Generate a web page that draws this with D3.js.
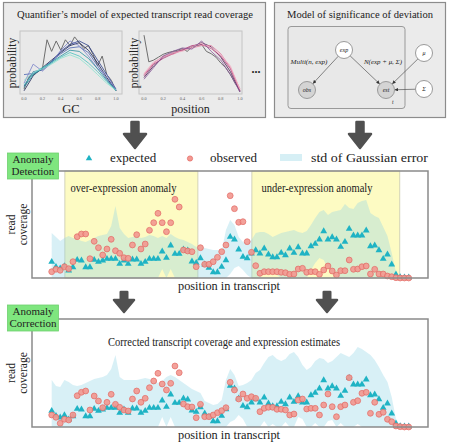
<!DOCTYPE html>
<html><head><meta charset="utf-8">
<script src="https://cdn.jsdelivr.net/npm/d3@7"></script>
<style>body{margin:0;background:#fff}svg{display:block}text{font-family:"Liberation Serif","DejaVu Serif",serif;fill:#222}</style>
</head><body>
<svg id="c" width="450" height="443"></svg>
<script>
// ---------- data ----------
const gcGrid = [0,0.1,0.2,0.3,0.4,0.5,0.6,0.7,0.8,0.9,1.0];
const fineGrid = [0,0.05,0.1,0.15,0.2,0.25,0.3,0.35,0.4,0.45,0.5,0.55,0.6,0.65,0.7,0.75,0.8,0.85,0.9,0.95,1.0];
const gcLines = [
  [0.02,0.28,0.42,0.55,0.68,0.80,0.85,0.72,0.50,0.25,0.02],
  [0.10,0.35,0.38,0.52,0.70,0.82,0.88,0.80,0.55,0.30,0.05],
  [0.30,0.32,0.40,0.53,0.66,0.76,0.78,0.68,0.45,0.22,0.03],
  [0.15,0.48,0.36,0.50,0.72,0.88,0.80,0.62,0.40,0.30,0.04],
  [0.08,0.30,0.40,0.52,0.62,0.72,0.70,0.58,0.40,0.20,0.02],
  [0.12,0.32,0.42,0.50,0.60,0.68,0.62,0.50,0.35,0.18,0.03],
  [0.20,0.34,0.40,0.48,0.58,0.64,0.58,0.45,0.30,0.15,0.03]
];
const gcColors = ["#1b2356","#2c3f8a","#4a66b0","#7a82c8","#2a8f9e","#49c2bf","#8de3cf"];
const gcGray = [0.05,0.25,0.30,0.35,0.40,0.90,0.70,0.88,0.72,0.90,0.80,0.95,0.85,0.75,0.80,0.65,0.45,0.62,0.30,0.20,0.02];
const posLines = [
  [0.25,0.45,0.60,0.68,0.72,0.78,0.85,0.78,0.60,0.35,0.00],
  [0.28,0.48,0.58,0.66,0.73,0.80,0.82,0.75,0.62,0.40,0.02],
  [0.30,0.50,0.62,0.65,0.72,0.76,0.80,0.80,0.66,0.42,0.05],
  [0.32,0.52,0.60,0.68,0.70,0.78,0.84,0.76,0.64,0.45,0.04],
  [0.22,0.42,0.62,0.70,0.76,0.74,0.88,0.70,0.55,0.30,0.00]
];
const posColors = ["#4a1f4e","#b03a7a","#e07aa0","#f2b0c4","#8a5a9a"];
const posGray = [0.98,0.52,0.55,0.60,0.65,0.68,0.70,0.72,0.75,0.70,0.78,0.80,0.82,0.70,0.66,0.60,0.50,0.42,0.30,0.15,0.03];
const tickLabels = ["0.0","0.2","0.4","0.6","0.8","1.0"];

const expected = [15.7,10.7,9,11.3,7,10.3,17.7,17,10.3,10.3,17.7,15.7,17,18.7,18.7,18.7,13.7,17,13.7,18,18,13.7,15.7,18.7,18.7,18.7,26,19.7,32,23.7,23.7,28,27,16,14.7,19.3,13,9.7,5.3,5.3,10.7,17.3,40.7,38,28,20.7,19.3,24,27.3,24,29,23,20.3,20.3,24.7,22.3,29,24.7,30.3,24,24,31.3,33.7,38,46.3,38,40.3,38,30.7,35.7,48.7,42,42,42,47,31.3,32,27.3,18.7,23,13,3,0.3,0,0];
const observed = [6.3,8.7,7.7,11.3,9.3,16.3,41.3,44,44,19.3,36.7,30.3,23,29,38.7,27.3,24.7,20.3,19.7,33,43.3,29,34,47.7,55.3,64.7,55.3,46.3,55.3,78.7,71,28,27,26.3,11.3,30.3,13.7,13.7,16.3,20.7,26.3,33,82.3,69.3,55.7,56.3,36.3,25.7,12.3,4.7,6.3,6.3,6.3,6.3,5.7,5.3,3.7,4,9,9.7,5.7,6.3,6.3,3.7,8,12,7,3,7.3,7.3,18,8.7,9,11.3,12,4,8.7,4,4,2,1.3,0.3,0,0,0];
const corrected = [12,9.7,3.7,7.7,7,12,31.3,34.7,36,17,31,26,19.3,24.7,32.7,22.7,19.7,17,16,28,36,24.7,28.7,39.3,46,53.7,43,37,43.7,61,54.3,23,20.3,20,9.3,22.7,10.3,10.3,12,14.3,16.3,19.3,44.7,37,28,33,28.7,30.3,28.7,15.3,18.7,19.7,19.7,17.7,17.7,17,12,13,27,28,18,18.7,18.7,12,22,33,20.3,10.3,20.3,22,49.3,24.7,26.3,33.7,34.7,13.7,24.7,12.7,14.7,7.7,5.3,1,0.3,0,0];
const stdUpper1 = [45,41,37,40,42,40,39,37,36,38,40,42,43,44,52,72,50,44,40,41,42,40,41,43,42,40,42,40,44,41,39,38,36,34,31,33,30,29,28,28,27,48,58,53,41,36,35,38,45,46,46,44,41,43,45,46,47,48,46,45,47,53,60,66,68,63,66,67,68,74,70,69,75,77,78,65,62,60,51,42,25,6,0,0,0];
const stdLower1 = [0,0,0,0,0,0,0,0,0,0,0,0,0,0,0,0,0,0,0,0,0,0,0,0,0,0,9,0,9,0,0,0,0,0,0,0,0,0,0,0,0,0,4,10,12,8,3,0,0,0,6,8,5,3,0,0,0,0,0,0,0,8,15,20,18,10,4,0,0,0,0,0,0,0,0,0,0,0,0,0,0,0,0,0,0];
const stdUpper2 = [47,41,40,47,45,42,41,42,44,46,48,49,50,52,58,72,50,47,47,47,47,48,49,48,46,44,46,50,52,50,47,44,41,38,36,34,26,24,22,23,27,47,58,52,41,42,44,47,54,57,64,70,72,68,66,68,73,75,70,62,57,60,66,69,68,64,66,70,74,72,70,74,80,78,75,72,67,60,52,45,30,8,0,0,0];
const stdLower2 = [0,0,0,0,0,0,0,0,0,0,0,0,0,0,0,0,0,0,0,0,0,0,0,0,0,0,10,0,10,0,0,0,0,0,0,0,0,0,0,0,0,0,5,7,12,8,0,0,0,0,6,0,3,0,0,5,0,0,10,8,0,0,4,0,0,6,7,0,4,0,0,0,3,0,0,0,0,0,0,0,0,0,0,0,0];
const anomalies = [
  {name:"over-expression anomaly", from:3.1, to:34.4},
  {name:"under-expression anomaly", from:47.1, to:81.9}
];
const legendItems = ["expected","observed","std of Gaussian error"];

// ---------- drawing ----------
const svg = d3.select("#c");
const defs = svg.append("defs");
defs.append("marker").attr("id","ah").attr("viewBox","0 0 10 10").attr("refX",9).attr("refY",5)
  .attr("markerWidth",5).attr("markerHeight",5).attr("orient","auto")
  .append("path").attr("d","M0,0L10,5L0,10z").attr("fill","#333");

// top boxes
function box(x,y,w,h){svg.append("rect").attr("x",x).attr("y",y).attr("width",w).attr("height",h)
  .attr("fill","#ebebeb").attr("stroke","#8c8c8c").attr("stroke-width",1.2);}
box(3.5,2.5,262,115); box(274.5,2.5,171,115);
svg.append("text").attr("x",135).attr("y",18).attr("text-anchor","middle").attr("font-size",10.5)
  .attr("textLength",236).attr("lengthAdjust","spacingAndGlyphs")
  .text("Quantifier\u2019s model of expected transcript read coverage");
svg.append("text").attr("x",360).attr("y",18).attr("text-anchor","middle").attr("font-size",10.5)
  .attr("textLength",146).attr("lengthAdjust","spacingAndGlyphs")
  .text("Model of significance of deviation");

function miniPlot(fx0,fx1,px0,px1,lines,colors,gray,xlab,ylabX){
  svg.append("rect").attr("x",fx0).attr("y",31).attr("width",fx1-fx0).attr("height",63)
    .attr("fill","#e9e9e9").attr("stroke","#c4c4c4").attr("stroke-width",1);
  const x = d3.scaleLinear([0,1],[px0,px1]);
  const y = d3.scaleLinear([0,1],[92,34]);
  const g = svg.append("g");
  const ln = d3.line().x(d=>x(d[0])).y(d=>y(d[1]));
  g.append("path").attr("d",ln(fineGrid.map((v,i)=>[v,gray[i]]))).attr("fill","none")
    .attr("stroke","#6e6e6e").attr("stroke-width",1);
  lines.forEach((arr,k)=>{
    g.append("path").attr("d",ln(gcGrid.map((v,i)=>[v,arr[i]]))).attr("fill","none")
      .attr("stroke",colors[k]).attr("stroke-width",0.9).attr("opacity",0.9);
  });
  tickLabels.forEach((t,i)=>{
    svg.append("text").attr("x",x(i*0.2)).attr("y",99.5).attr("text-anchor","middle")
      .attr("font-size",4.3).style("fill","#666").text(t);
  });
  svg.append("text").attr("x",(fx0+fx1)/2).attr("y",112.5).attr("text-anchor","middle")
    .attr("font-size",xlab==="GC"?12.5:12).text(xlab);
  svg.append("text").attr("transform",`translate(${ylabX},63) rotate(-90)`).attr("text-anchor","middle")
    .attr("font-size",11.5).attr("dy","0.35em").text("probability");
}
miniPlot(20,122,24,116,gcLines,gcColors,gcGray,"GC",12);
miniPlot(139,242,144,240,posLines,posColors,posGray,"position",134);
svg.append("text").attr("x",256).attr("y",73).attr("text-anchor","middle").attr("font-size",12)
  .attr("font-weight","bold").text("...");

// graphical model
svg.append("rect").attr("x",288).attr("y",26.5).attr("width",117).attr("height",82).attr("rx",3)
  .attr("fill","#e8e8e8").attr("stroke","#999").attr("stroke-width",1);
const nodes = {exp:[344,50,"#fff","exp"],obs:[307,90,"#d4d4d4","obs"],est:[386,90,"#d4d4d4","est"],
  mu:[424,53,"#fff","\u03bc"],sig:[424,89,"#fff","\u03a3"]};
const R=8.5;
[["exp","obs"],["exp","est"],["mu","est"],["sig","est"]].forEach(([a,b])=>{
  const A=nodes[a],B=nodes[b];const dx=B[0]-A[0],dy=B[1]-A[1],L=Math.hypot(dx,dy);
  svg.append("line").attr("x1",A[0]+dx/L*R).attr("y1",A[1]+dy/L*R)
    .attr("x2",B[0]-dx/L*(R+0.5)).attr("y2",B[1]-dy/L*(R+0.5))
    .attr("stroke","#555").attr("stroke-width",0.7).attr("marker-end","url(#ah)");
});
Object.values(nodes).forEach(n=>{
  svg.append("circle").attr("cx",n[0]).attr("cy",n[1]).attr("r",R).attr("fill",n[2])
    .attr("stroke","#9a9a9a").attr("stroke-width",1);
  svg.append("text").attr("x",n[0]).attr("y",n[1]).attr("dy","0.33em").attr("text-anchor","middle")
    .attr("font-size",6).attr("font-style","italic").text(n[3]);
});
svg.append("text").attr("x",309).attr("y",64).attr("text-anchor","middle").attr("font-size",5.2)
  .attr("font-style","italic").attr("textLength",37).attr("lengthAdjust","spacingAndGlyphs").text("Multi(n, exp)");
svg.append("text").attr("x",383).attr("y",64).attr("text-anchor","middle").attr("font-size",5.2)
  .attr("font-style","italic").attr("textLength",38).attr("lengthAdjust","spacingAndGlyphs").text("N(exp + \u03bc, \u03a3)");
svg.append("text").attr("x",392).attr("y",104).attr("font-size",5.5).attr("font-style","italic").text("t");

// big arrows
function bigArrow(cx,yTop,yTip,hw,hh,sw){
  const p = `M${cx-sw/2},${yTop} L${cx+sw/2},${yTop} L${cx+sw/2},${yTip-hh} L${cx+hw},${yTip-hh} L${cx},${yTip} L${cx-hw},${yTip-hh} L${cx-sw/2},${yTip-hh} Z`;
  svg.append("path").attr("d",p).attr("fill","#505050").attr("stroke","#505050")
    .attr("stroke-width",2.5).attr("stroke-linejoin","round");
}
bigArrow(135,122,148,11,14,7);
bigArrow(360,122,148,11,14,7);
bigArrow(124,292,312,10,12,6.5);
bigArrow(327,292,312,10,12,6.5);

// legend
const tri = d3.symbol().type(d3.symbolTriangle);
svg.append("path").attr("d",tri.size(18)()).attr("transform","translate(89,158.5)").attr("fill","#1fb3c4");
svg.append("text").attr("x",110).attr("y",162).attr("font-size",13).text(legendItems[0]);
svg.append("circle").attr("cx",190).attr("cy",158.5).attr("r",2.6).attr("fill","#f39a92").attr("stroke","#e46f6a").attr("stroke-width",0.8);
svg.append("text").attr("x",210).attr("y",162).attr("font-size",13).text(legendItems[1]);
svg.append("rect").attr("x",280).attr("y",154).attr("width",22).attr("height",7).attr("fill","#d6eff5");
svg.append("text").attr("x",311).attr("y",162).attr("font-size",13).attr("textLength",117)
  .attr("lengthAdjust","spacingAndGlyphs").text(legendItems[2]);

const x = d3.scaleLinear([0,84],[51.7,408.7]);
function chart(top,bottom,obs,up,lo,showAnom,title){
  const y = d3.scaleLinear([0,bottom-top],[bottom,top]);
  svg.append("rect").attr("x",32).attr("y",top).attr("width",396).attr("height",bottom-top)
    .attr("fill","#fff");
  if(showAnom){
    anomalies.forEach(a=>{
      svg.append("rect").attr("x",x(a.from)).attr("y",top).attr("width",x(a.to)-x(a.from))
        .attr("height",bottom-top).attr("fill","#fdfbc3").attr("stroke","#c8c8b0").attr("stroke-width",0.8);
    });
  }
  const area = d3.area().x((d,i)=>x(i)).y0((d,i)=>y(lo[i])).y1(d=>y(d));
  svg.append("path").attr("d",area(up)).attr("fill","#8fd3e6").attr("fill-opacity",0.35);
  const g = svg.append("g");
  g.selectAll("path.t").data(expected).join("path").attr("class","t").attr("d",tri.size(20)())
    .attr("transform",(d,i)=>`translate(${x(i)},${y(d)-0.5})`).attr("fill","#1fb3c4");
  g.selectAll("circle").data(obs).join("circle").attr("cx",(d,i)=>x(i)).attr("cy",d=>y(d))
    .attr("r",2.9).attr("fill","#f39a92").attr("stroke","#e46f6a").attr("stroke-width",0.9).attr("opacity",0.92);
  svg.append("rect").attr("x",32).attr("y",top).attr("width",396).attr("height",bottom-top)
    .attr("fill","none").attr("stroke","#8a8a8a").attr("stroke-width",1.5);
  if(showAnom){
    svg.append("text").attr("x",70.5).attr("y",top+20.5).attr("font-size",11.5).attr("textLength",106)
      .attr("lengthAdjust","spacingAndGlyphs").text(anomalies[0].name);
    svg.append("text").attr("x",261.5).attr("y",top+20.5).attr("font-size",11.5).attr("textLength",111)
      .attr("lengthAdjust","spacingAndGlyphs").text(anomalies[1].name);
  }
  if(title){
    svg.append("text").attr("x",224).attr("y",top+26.5).attr("text-anchor","middle").attr("font-size",11.5)
      .attr("textLength",232).attr("lengthAdjust","spacingAndGlyphs").text(title);
  }
  const cy = (top+bottom)/2;
  const yl = svg.append("text").attr("transform",`translate(20,${cy}) rotate(-90)`).attr("text-anchor","middle").attr("font-size",11.5);
  yl.append("tspan").attr("x",0).attr("dy","-0.45em").text("read");
  yl.append("tspan").attr("x",0).attr("dy","1.05em").text("coverage");
  svg.append("text").attr("x",229).attr("y",bottom+12).attr("text-anchor","middle").attr("font-size",12.5)
    .attr("textLength",102).attr("lengthAdjust","spacingAndGlyphs").text("position in transcript");
}
chart(171,278,observed,stdUpper1,stdLower1,true,null);
chart(319,427,corrected,stdUpper2,stdLower2,false,"Corrected transcript coverage and expression estimates");

function greenBox(y0,l1,l2){
  svg.append("rect").attr("x",7.5).attr("y",y0).attr("width",51).attr("height",26)
    .attr("fill","#7fe67f").attr("stroke","#6fd06f").attr("stroke-width",0.8);
  svg.append("text").attr("x",33).attr("y",y0+10).attr("text-anchor","middle").attr("font-size",11).text(l1);
  svg.append("text").attr("x",33).attr("y",y0+22).attr("text-anchor","middle").attr("font-size",11).text(l2);
}
greenBox(153,"Anomaly","Detection");
greenBox(305,"Anomaly","Correction");
</script>
</body></html>
